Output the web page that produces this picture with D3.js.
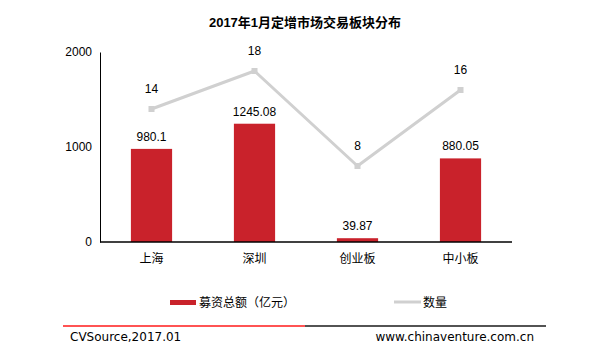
<!DOCTYPE html>
<html><head><meta charset="utf-8">
<script src="https://cdn.jsdelivr.net/npm/d3@7"></script>
<style>body{margin:0;background:#fff}svg{display:block}text{font-family:Arial,"Liberation Sans","Noto Sans CJK SC",sans-serif}</style>
</head><body>
<script>
const categories = ["上海","深圳","创业板","中小板"];
const amounts = [980.1, 1245.08, 39.87, 880.05];
const counts = [14, 18, 8, 16];
const yTicks = [0, 1000, 2000];
const seriesNames = ["募资总额（亿元）","数量"];

const W = 610, H = 360;
const svg = d3.select("body").append("svg").attr("width", W).attr("height", H);
const x = d3.scaleBand().domain(categories).range([100, 512]).paddingInner(0.6).paddingOuter(0.3);
const y = d3.scaleLinear().domain([0, 2000]).range([242, 52]);
const y2 = d3.scaleLinear().domain([0, 20]).range([242, 52]);

svg.append("text").attr("x", 305).attr("y", 27).attr("text-anchor", "middle")
  .attr("font-size", 13).attr("font-weight", "bold").text("2017年1月定增市场交易板块分布");

// y axis
const ya = svg.append("g").attr("transform", "translate(100,0)")
  .call(d3.axisLeft(y).tickValues(yTicks).tickSize(0).tickPadding(8).tickFormat(d3.format("d")));
ya.select(".domain").attr("stroke", "#000");
ya.selectAll("text").attr("font-size", 12).attr("fill", "#000");

// bars
svg.selectAll("rect.bar").data(amounts).join("rect").attr("class", "bar")
  .attr("x", (d, i) => x(categories[i])).attr("width", x.bandwidth())
  .attr("y", d => y(d)).attr("height", d => y(0) - y(d)).attr("fill", "#c9222b");
svg.selectAll("text.bl").data(amounts).join("text").attr("class", "bl")
  .attr("x", (d, i) => x(categories[i]) + x.bandwidth() / 2).attr("y", d => y(d) - 8)
  .attr("text-anchor", "middle").attr("font-size", 12).text(d => d);

// x axis
const xa = svg.append("g").attr("transform", "translate(0,242)")
  .call(d3.axisBottom(x).tickSize(0).tickPadding(12));
xa.select(".domain").attr("stroke", "#000").attr("stroke-width", 1.5).attr("d", "M100,0H512");
xa.selectAll("text").attr("font-size", 12).attr("fill", "#000");

// line
const line = d3.line().x((d, i) => x(categories[i]) + x.bandwidth() / 2).y(d => y2(d));
svg.append("path").datum(counts).attr("d", line).attr("fill", "none")
  .attr("stroke", "#d0d0d0").attr("stroke-width", 3).attr("stroke-linejoin", "round");
svg.selectAll("rect.pt").data(counts).join("rect").attr("class", "pt")
  .attr("x", (d, i) => x(categories[i]) + x.bandwidth() / 2 - 3).attr("y", d => y2(d) - 3)
  .attr("width", 6).attr("height", 6).attr("fill", "#d0d0d0");
svg.selectAll("text.pl").data(counts).join("text").attr("class", "pl")
  .attr("x", (d, i) => x(categories[i]) + x.bandwidth() / 2).attr("y", d => y2(d) - 16)
  .attr("text-anchor", "middle").attr("font-size", 12).text(d => d);

// legend
svg.append("rect").attr("x", 170).attr("y", 300).attr("width", 26).attr("height", 5).attr("fill", "#c9222b");
svg.append("text").attr("x", 199).attr("y", 307).attr("font-size", 12).text(seriesNames[0]);
svg.append("line").attr("x1", 394).attr("x2", 421).attr("y1", 302).attr("y2", 302)
  .attr("stroke", "#d0d0d0").attr("stroke-width", 3);
svg.append("text").attr("x", 423).attr("y", 307).attr("font-size", 12).text(seriesNames[1]);

// footer
svg.append("line").attr("x1", 63).attr("x2", 305).attr("y1", 326).attr("y2", 326).attr("stroke", "#ff1a1a").attr("stroke-width", 1.5);
svg.append("line").attr("x1", 305).attr("x2", 546).attr("y1", 326).attr("y2", 326).attr("stroke", "#1a1a1a").attr("stroke-width", 1.5);
svg.append("text").attr("x", 70).attr("y", 341).attr("font-size", 12).style("font-family", "'DejaVu Sans',sans-serif").text("CVSource,2017.01");
svg.append("text").attr("x", 534).attr("y", 341).attr("text-anchor", "end").attr("font-size", 12).style("font-family", "'DejaVu Sans',sans-serif").text("www.chinaventure.com.cn");
</script>
</body></html>
